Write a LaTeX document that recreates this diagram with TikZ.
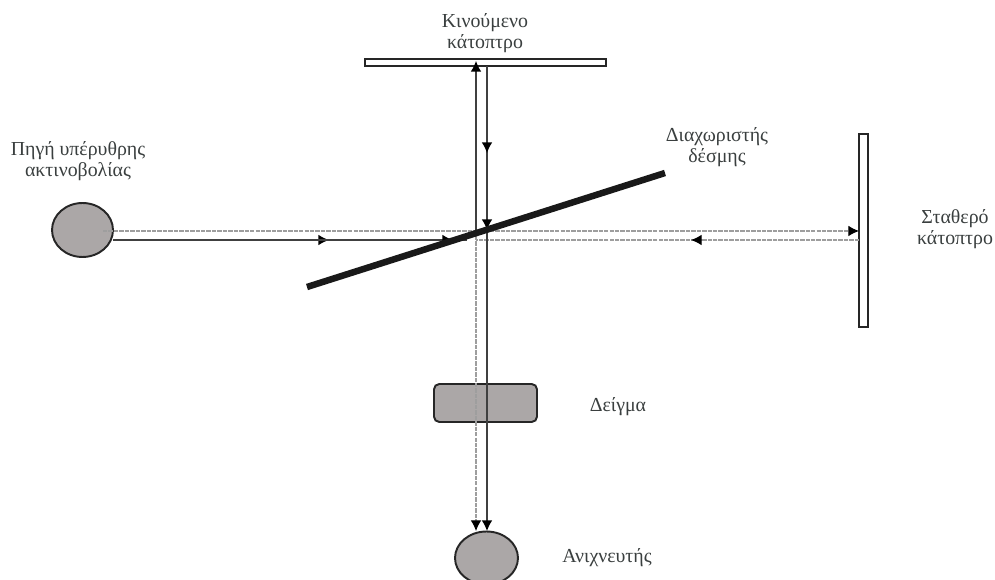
\documentclass[tikz,border=0pt]{standalone}
\usepackage{fontspec}
\setmainfont{Liberation Serif}
\usetikzlibrary{arrows.meta}
\usetikzlibrary{shapes.geometric}
\definecolor{partgray}{HTML}{ABA7A7}
\definecolor{labelgray}{HTML}{3A3F3F}

\begin{document}
\begin{tikzpicture}[
    x=0.02cm, y=-0.02cm,
    part style/.style={draw=black!85, line width=1.1pt, fill=partgray, inner sep=0pt},
    mirror style/.style={draw=black!85, line width=0.8pt, fill=white, inner sep=0pt},
    label style/.style={text=labelgray, font=\fontsize{11.3}{11.9}\selectfont, align=center},
    solid beam/.style={draw=black!75, line width=0.65pt},
    dashed beam/.style={draw=black!38, line width=0.6pt, dash pattern=on 2.5pt off 0.6pt},
    tip/.style={-{Latex[length=6pt,width=6pt,black]}}
]

% SAME BOUNDING BOX
\path[use as bounding box] (0,0) rectangle (995,580);

% parts
\node[part style, ellipse, minimum width=1.22cm, minimum height=1.08cm] (source) at (82.5,230) {};
\node[part style, rectangle, rounded corners=3pt, minimum width=2.06cm, minimum height=0.76cm] (sample) at (485.5,403) {};
\node[mirror style, rectangle, minimum width=4.82cm, minimum height=0.14cm] (moving) at (485.5,62.5) {};
\node[mirror style, rectangle, minimum width=0.18cm, minimum height=3.86cm] (fixed) at (863.5,230.5) {};

% points on the beams
\coordinate (inA) at (113,240);
\coordinate (inB) at (329,240);
\coordinate (inC) at (453,240);
\coordinate (inD) at (467,240);
\coordinate (dashA) at (103,231);
\coordinate (dashB) at (859,231);
\coordinate (backA) at (859,240);
\coordinate (backB) at (691,240);
\coordinate (backC) at (476,240);
\coordinate (upA) at (476,233);
\coordinate (upB) at (476,61);
\coordinate (downA) at (487,66);
\coordinate (downB) at (487,153);
\coordinate (downC) at (487,230);
\coordinate (outA) at (476,236);
\coordinate (outB) at (476,531);
\coordinate (outC) at (487,231);
\coordinate (outD) at (487,531);
\coordinate (splitA) at (307,287);
\coordinate (splitB) at (665,173);

% beams
\draw[solid beam] (inA) -- (inD);
\draw[solid beam, tip] (inA) -- (inB);
\draw[solid beam, tip] (inA) -- (inC);
\draw[dashed beam, tip] (dashA) -- (dashB);
\draw[dashed beam] (backA) -- (backC);
\draw[dashed beam, tip] (backA) -- (backB);
\draw[solid beam, tip] (upA) -- (upB);
\draw[solid beam, tip] (downA) -- (downC);
\draw[solid beam, tip] (downA) -- (downB);
\draw[dashed beam, tip] (outA) -- (outB);
\draw[solid beam, tip] (outC) -- (outD);

% beam splitter
\draw[line width=3.7pt, black!90] (splitA) -- (splitB);

\node[part style, ellipse, minimum width=1.26cm, minimum height=1.06cm] (detector) at (486.5,558) {};

% labels
\node[label style] (sourcetext) at (78,161) {Πηγή υπέρυθρης\\ακτινοβολίας};
\node[label style] (movingtext) at (485,33) {Κινούμενο\\κάτοπτρο};
\node[label style] (splittext) at (717,147) {Διαχωριστής\\δέσμης};
\node[label style] (fixedtext) at (955,229) {Σταθερό\\κάτοπτρο};
\node[label style] (sampletext) at (618,407) {Δείγμα};
\node[label style] (detectortext) at (607,558) {Ανιχνευτής};

\end{tikzpicture}
\end{document}
